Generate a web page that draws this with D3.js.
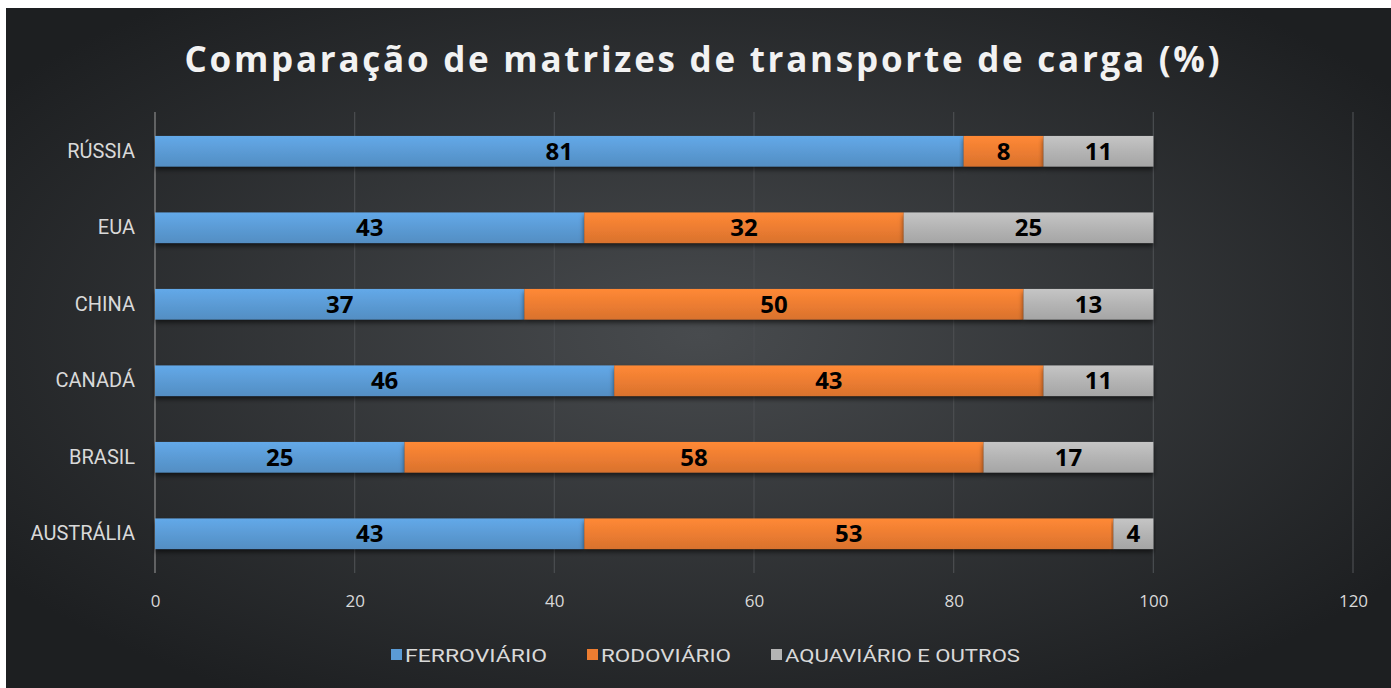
<!DOCTYPE html>
<html>
<head>
<meta charset="utf-8">
<script src="https://cdn.jsdelivr.net/npm/d3@7"></script>
<style>
  body { margin: 0; background: #ffffff; }
  svg { display: block; }
</style>
</head>
<body>
<div id="chart"></div>
<script>
// categories top to bottom
var countries = ["RÚSSIA", "EUA", "CHINA", "CANADÁ", "BRASIL", "AUSTRÁLIA"];
var ferroviario = [81, 43, 37, 46, 25, 43];
var rodoviario = [8, 32, 50, 43, 58, 53];
var aquaviario = [11, 25, 13, 11, 17, 4];
var seriesNames = ["FERROVIÁRIO", "RODOVIÁRIO", "AQUAVIÁRIO E OUTROS"];
var xTicks = [0, 20, 40, 60, 80, 100, 120];

var colors = ["#5b9bd5", "#ed7d31", "#b4b4b4"];
var W = 1391, H = 688;

var svg = d3.select("#chart").append("svg")
    .attr("width", W)
    .attr("height", H);

var defs = svg.append("defs");

// background radial gradient
var bg = defs.append("radialGradient")
    .attr("id", "bg")
    .attr("cx", "50%").attr("cy", "48%").attr("r", "62%");
bg.append("stop").attr("offset", "0%").attr("stop-color", "#484b4e");
bg.append("stop").attr("offset", "100%").attr("stop-color", "#1d1f21");

// bar gradients (bevel look)
colors.forEach(function(c, i) {
    var g = defs.append("linearGradient")
        .attr("id", "bar" + i)
        .attr("x1", 0).attr("y1", 0).attr("x2", 0).attr("y2", 1);
    g.append("stop").attr("offset", "0%").attr("stop-color", d3.color(c).brighter(0.25));
    g.append("stop").attr("offset", "50%").attr("stop-color", c);
    g.append("stop").attr("offset", "100%").attr("stop-color", d3.color(c).darker(0.25));
});

var shadow = defs.append("filter").attr("id", "shadow")
    .attr("x", "-5%").attr("y", "-30%").attr("width", "110%").attr("height", "180%");
shadow.append("feDropShadow")
    .attr("dx", 0).attr("dy", 3).attr("stdDeviation", 2.5)
    .attr("flood-color", "#000").attr("flood-opacity", 0.6);

svg.append("rect")
    .attr("x", 6).attr("y", 8)
    .attr("width", W - 6).attr("height", H - 8)
    .attr("fill", "url(#bg)");

var x = d3.scaleLinear().domain([0, 120]).range([155, 1353]);
var y = d3.scaleBand().domain(countries).range([113, 572]).paddingInner(0.6).paddingOuter(0.3);

// title
svg.append("text")
    .attr("x", 702).attr("y", 72)
    .attr("text-anchor", "middle")
    .attr("textLength", 1035)
    .attr("lengthAdjust", "spacing")
    .style("font-family", "'Open Sans', sans-serif")
    .style("font-weight", "bold")
    .style("font-size", "35px")
    .style("fill", "#f2f2f2")
    .text("Comparação de matrizes de transporte de carga (%)");

// gridlines
svg.append("g").selectAll("line")
    .data(xTicks)
    .join("line")
    .attr("x1", function(d) { return x(d); })
    .attr("x2", function(d) { return x(d); })
    .attr("y1", 112).attr("y2", 573)
    .attr("stroke", function(d) { return d === 0 ? "#8a8a8a" : "#4b4e51"; })
    .attr("stroke-width", 1.2);

// x axis labels
var xAxis = d3.axisBottom(x).tickValues(xTicks).tickSize(0).tickPadding(0);
var gx = svg.append("g")
    .attr("transform", "translate(0,595)")
    .call(xAxis);
gx.select(".domain").remove();
gx.selectAll("text")
    .style("font-family", "'Open Sans', sans-serif")
    .style("font-size", "17px")
    .style("fill", "#d9d9d9");

// y axis labels
var yAxis = d3.axisLeft(y).tickSize(0).tickPadding(0);
var gy = svg.append("g")
    .attr("transform", "translate(135,0)")
    .call(yAxis);
gy.select(".domain").remove();
gy.selectAll("text")
    .style("font-family", "'Roboto', sans-serif")
    .style("font-size", "20px")
    .style("fill", "#d9d9d9");

// stack the series
var rows = countries.map(function(c, i) {
    return { country: c, s0: ferroviario[i], s1: rodoviario[i], s2: aquaviario[i] };
});
var stack = d3.stack().keys(["s0", "s1", "s2"]);
var layers = stack(rows);

var layerG = svg.append("g").selectAll("g")
    .data(layers)
    .join("g")
    .attr("fill", function(d, i) { return "url(#bar" + i + ")"; });

layerG.selectAll("rect")
    .data(function(d) { return d; })
    .join("rect")
    .attr("x", function(d) { return x(d[0]); })
    .attr("y", function(d) { return y(d.data.country); })
    .attr("width", function(d) { return x(d[1]) - x(d[0]); })
    .attr("height", y.bandwidth())
    .attr("filter", "url(#shadow)");

// value labels
layers.forEach(function(layer) {
    svg.append("g").selectAll("text")
        .data(layer)
        .join("text")
        .attr("x", function(d) { return (x(d[0]) + x(d[1])) / 2; })
        .attr("y", function(d) { return y(d.data.country) + y.bandwidth() / 2; })
        .attr("dy", "0.36em")
        .attr("text-anchor", "middle")
        .style("font-family", "'Open Sans', sans-serif")
        .style("font-weight", "bold")
        .style("font-size", "24px")
        .style("fill", "#000")
        .text(function(d) { return d[1] - d[0]; });
});

// legend
var legendX = [391, 587, 771];
var legendW = [142, 130, 235];
var legend = svg.append("g").selectAll("g")
    .data(seriesNames)
    .join("g")
    .attr("transform", function(d, i) { return "translate(" + legendX[i] + ",655)"; });
legend.append("rect")
    .attr("x", 0).attr("y", -6)
    .attr("width", 11).attr("height", 11)
    .attr("fill", function(d, i) { return colors[i]; });
legend.append("text")
    .attr("x", 14).attr("y", 0)
    .attr("dy", "0.35em")
    .attr("textLength", function(d, i) { return legendW[i]; })
    .attr("lengthAdjust", "spacingAndGlyphs")
    .style("font-family", "'Roboto', sans-serif")
    .style("font-size", "19px")
    .style("fill", "#d9d9d9")
    .text(function(d) { return d; });
</script>
</body>
</html>
